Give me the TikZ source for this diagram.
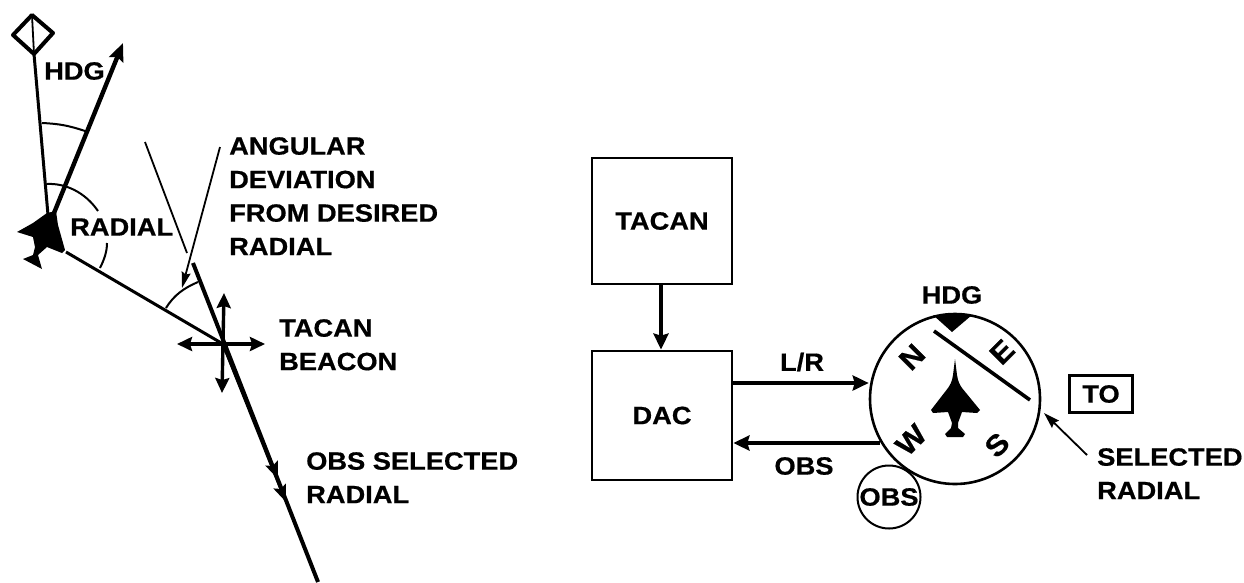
\documentclass[tikz,border=0pt]{standalone}
\usepackage{fontspec}
\setmainfont{Liberation Sans}[FakeStretch=1.09,BoldFeatures={FakeBold=0.6}]
\usetikzlibrary{arrows.meta}
\tikzset{
 lbl/.style={font=\bfseries\fontsize{25}{33.5}\selectfont,inner sep=0pt,align=left,text=black},
 boxn/.style={draw,line width=2.8pt,inner sep=0pt,font=\bfseries\fontsize{25}{25}\selectfont},
 thinl/.style={line width=1.8pt},
 medl/.style={line width=3pt},
 thick4/.style={line width=4pt},
 arcl/.style={line width=2pt},
 blockar/.style={line width=4pt,-{Stealth[length=16pt,width=15pt,inset=2pt]}},
 tips/.style={{Stealth[length=15pt,width=14pt,inset=2pt]}-{Stealth[length=15pt,width=14pt,inset=2pt]}},
 letter/.style={font=\bfseries\fontsize{29}{29}\selectfont,inner sep=0pt,rotate=45},
}
\begin{document}
\begin{tikzpicture}[x=1pt,y=-1pt]
\useasboundingbox (0,0) rectangle (1244,582);
% left part coordinates
\coordinate (bear) at (34,54);
\coordinate (plane) at (48,215);
\coordinate (hdgtip) at (123,43);
\coordinate (hdgbase) at (54,213);
\coordinate (planeR) at (66,252);
\coordinate (beacon) at (223,344);
\coordinate (radS) at (193,263);
\coordinate (radE) at (318,582);
\coordinate (cu) at (224,293);
\coordinate (cd) at (222,393);
\coordinate (cl) at (177,344);
\coordinate (cr) at (265,344);
\coordinate (l1a) at (145,142);
\coordinate (l1b) at (187,253);
\coordinate (l2a) at (220,147);
\coordinate (l2b) at (182,288);
% diamond
\draw[line width=4pt,line join=round] (32,15) -- (13,35) -- (34,54) -- (53,33) -- cycle;
\draw[thinl] (32,15) -- (bear);
\draw[medl] (bear) -- (plane);
\draw[line width=4.4pt,-{Stealth[length=18pt,width=15pt,inset=3pt]}] (hdgbase) -- (hdgtip);
\fill (17,232) -- (33,223) -- (47,213) -- (56,211) -- (58,225) -- (65,250) -- (62,253) -- (47,247) -- (38,255) -- (42,269) -- (23,259) -- (33,255) -- (35,247) -- (33,237) -- cycle;
\draw[medl] (planeR) -- (beacon);
\draw[arcl] (42,123) to[bend left=8] (85,131);
\draw[arcl] (47,184) .. controls (65,183) and (85,192) .. (98,211);
\draw[arcl] (107,243) .. controls (107,252) and (104,260) .. (100,268);
\draw[arcl] (166,308) .. controls (174,295) and (184,288) .. (198,282);
\draw[thick4] (radS) -- (radE);
\draw[line width=3pt,-{Stealth[length=17pt,width=13pt,inset=3pt]}] (beacon) -- (278,479);
\draw[line width=3pt,-{Stealth[length=17pt,width=13pt,inset=3pt]}] (beacon) -- (286,502);
\draw[line width=3.4pt,tips] (cu) -- (cd);
\draw[line width=3.4pt,tips] (cl) -- (cr);
\draw[thinl] (l1a) -- (l1b);
\draw[thinl,-{Stealth[length=16pt,width=9pt,inset=2pt]}] (l2a) -- (l2b);
\node[lbl,anchor=west] (thdg) at (44,71) {HDG};
\node[lbl,anchor=west] (trad) at (70,227) {RADIAL};
\node[lbl,anchor=north west] (tang) at (229,137) {ANGULAR\\DEVIATION\\FROM DESIRED\\RADIAL};
\node[lbl,anchor=north west] (tbea) at (279,319) {TACAN\\BEACON};
\node[lbl,anchor=north west] (tobs) at (306,452) {OBS SELECTED\\RADIAL};
% right part
\node[boxn,minimum width=140pt,minimum height=126pt] (tacan) at (662,221) {TACAN};
\node[boxn,minimum width=140pt,minimum height=129pt] (dac) at (662,415.5) {DAC};
\node[draw,circle,line width=2.6pt,minimum size=170pt,inner sep=0pt] (comp) at (955,399) {};
\node[draw,circle,line width=2pt,minimum size=63pt,inner sep=0pt,fill=white,font=\bfseries\fontsize{25}{25}\selectfont] (obsk) at (889,497) {OBS};
\draw[blockar] (tacan.south -| 661,0) -- (dac.north -| 661,0);
\draw[blockar] (dac.east |- 0,383) -- (comp.west |- 0,383);
\draw[blockar] (880,443) -- (dac.east |- 0,443);
\node[lbl,anchor=center] (lr) at (802,362) {L/R};
\node[lbl,anchor=center] (tob) at (804,466) {OBS};
\node[lbl,anchor=center] (hd) at (952,295) {HDG};
\fill (933,315) -- (972,315) -- (952,332) -- cycle;
\draw[line width=3.6pt] (934,331) -- (1030,400);
\node[letter] (n) at (912,357) {N};
\node[letter] (e) at (1002,352) {E};
\node[letter] (s) at (997,445) {S};
\node[letter] (w) at (911,440) {W};
\fill (955,359) -- (957,375) .. controls (958,382) and (960,385) .. (962,388) -- (980,410) -- (977,413) -- (962,412) -- (958,423) -- (958,428) -- (965,434) -- (963,437) -- (947,437) -- (945,434) -- (951,428) -- (952,423) -- (948,412) -- (933,413) -- (931,410) -- (948,388) .. controls (950,385) and (952,382) .. (953,375) -- cycle;
\node[boxn,minimum width=63pt,minimum height=37pt] (to) at (1101,394) {TO};
\node[lbl,anchor=north west] (sel) at (1097,448) {SELECTED\\RADIAL};
\coordinate (la) at (1087,455);
\coordinate (lb) at (1044,413);
\draw[thinl,-{Stealth[length=16pt,width=10pt,inset=2pt]}] (la) -- (lb);
\end{tikzpicture}
\end{document}
